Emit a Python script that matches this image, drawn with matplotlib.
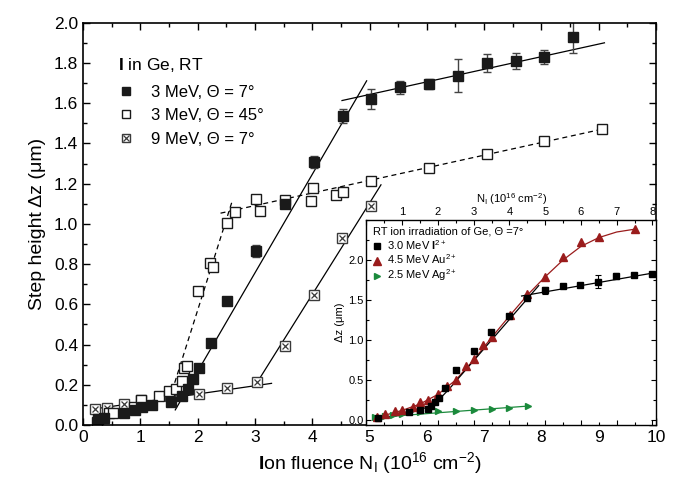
import matplotlib
matplotlib.use("Agg")
import matplotlib.pyplot as plt
from matplotlib.lines import Line2D
from matplotlib.ticker import MultipleLocator, FixedLocator

plt.rcParams['font.family'] = ['Liberation Sans', 'DejaVu Sans']
plt.rcParams['mathtext.fontset'] = 'custom'
plt.rcParams['mathtext.rm'] = 'Liberation Sans'
plt.rcParams['mathtext.it'] = 'Liberation Sans:italic'
plt.rcParams['mathtext.bf'] = 'Liberation Sans:bold'

# ---- main panel: I ions in Ge, step height vs fluence ----
# 3 MeV, theta = 7 deg (filled squares)
x_7 = [0.26, 0.37, 0.71, 0.91, 1.03, 1.2, 1.53, 1.72, 1.83, 1.92, 2.02, 2.23, 2.52,
       3.02, 3.53, 4.03, 4.53, 5.03, 5.53, 6.03, 6.54, 7.05, 7.55, 8.04, 8.56]
y_7 = [0.03, 0.036, 0.058, 0.075, 0.088, 0.10, 0.116, 0.146, 0.178, 0.227, 0.282, 0.41, 0.617,
       0.866, 1.10, 1.307, 1.534, 1.62, 1.678, 1.696, 1.736, 1.80, 1.81, 1.83, 1.93]
err_7 = [0, 0, 0, 0, 0, 0, 0, 0, 0, 0, 0.02, 0, 0,
         0.03, 0, 0.03, 0.035, 0.05, 0.03, 0.025, 0.083, 0.045, 0.04, 0.035, 0.083]

# 3 MeV, theta = 45 deg (open squares)
x_45 = [0.25, 0.46, 0.53, 0.89, 1.02, 1.33, 1.5, 1.63, 1.72, 1.77, 1.82, 2.01, 2.21, 2.27,
        2.52, 2.65, 3.02, 3.09, 3.53, 3.98, 4.02, 4.42, 4.53, 5.03, 6.03, 7.05, 8.05, 9.05]
y_45 = [0.015, 0.058, 0.06, 0.091, 0.122, 0.142, 0.168, 0.178, 0.217, 0.282, 0.295, 0.668, 0.807, 0.787,
        1.003, 1.06, 1.124, 1.065, 1.12, 1.116, 1.18, 1.144, 1.156, 1.215, 1.276, 1.348, 1.41, 1.47]

# 9 MeV, theta = 7 deg (crossed squares)
x_9 = [0.21, 0.41, 0.71, 1.02, 1.51, 2.02, 2.52, 3.03, 3.53, 4.03, 4.52, 5.02]
y_9 = [0.08, 0.086, 0.104, 0.123, 0.146, 0.154, 0.184, 0.216, 0.395, 0.647, 0.929, 1.09]

# straight-line fits (end points)
fit_7_low_x, fit_7_low_y = [0.2, 1.75], [0.02, 0.16]
fit_7_rise_x, fit_7_rise_y = [1.61, 4.95], [0.075, 1.711]
fit_7_sat_x, fit_7_sat_y = [4.52, 9.1], [1.613, 1.90]
fit_45_rise_x, fit_45_rise_y = [1.6, 2.6], [0.21, 1.11]
fit_45_sat_x, fit_45_sat_y = [2.4, 9.05], [1.053, 1.47]
fit_9_low_x, fit_9_low_y = [0.2, 3.29], [0.08, 0.207]
fit_9_rise_x, fit_9_rise_y = [3.0, 5.2], [0.194, 1.194]

# ---- inset: comparison of ion species ----
ins_I_x = [0.33, 1.2, 1.5, 1.72, 1.82, 1.92, 2.02, 2.19, 2.5, 3.0, 3.49, 4.0, 4.5,
           5.0, 5.49, 5.98, 6.49, 6.99, 7.49, 7.99]
ins_I_y = [0.02, 0.10, 0.125, 0.14, 0.17, 0.22, 0.27, 0.40, 0.62, 0.86, 1.10, 1.30, 1.52,
           1.62, 1.67, 1.69, 1.73, 1.80, 1.81, 1.83]
ins_I_err = [0, 0, 0, 0, 0, 0, 0, 0, 0, 0, 0, 0, 0.02,
             0.04, 0.02, 0.02, 0.08, 0.04, 0.02, 0.02]

ins_Au_x = [0.3, 0.52, 0.8, 1.0, 1.29, 1.5, 1.71, 2.0, 2.26, 2.51, 2.78, 3.02, 3.25, 3.51,
            4.02, 4.5, 5.0, 5.51, 6.0, 6.5, 7.51]
ins_Au_y = [0.04, 0.08, 0.11, 0.13, 0.16, 0.22, 0.25, 0.33, 0.42, 0.50, 0.67, 0.76, 0.94, 1.04,
            1.31, 1.57, 1.79, 2.04, 2.22, 2.29, 2.39]

ins_Ag_x = [0.23, 0.52, 0.75, 1.0, 1.5, 2.0, 2.52, 3.02, 3.52, 4.0, 4.52]
ins_Ag_y = [0.04, 0.05, 0.06, 0.075, 0.10, 0.11, 0.11, 0.12, 0.14, 0.155, 0.17]

# fitted curves read along their paths
curve_I_x = [0.2, 0.8, 1.3, 1.7, 2.0, 2.3, 4.82]
curve_I_y = [0.0, 0.05, 0.10, 0.16, 0.24, 0.38, 1.68]
curve_I_sat_x, curve_I_sat_y = [4.34, 8.05], [1.55, 1.84]
curve_Au_x = [0.2, 0.6, 1.0, 1.5, 2.0, 2.5, 3.0, 3.5, 4.0, 4.5, 5.0, 5.5, 6.0, 6.5, 7.0, 7.5]
curve_Au_y = [0.03, 0.07, 0.12, 0.2, 0.32, 0.5, 0.75, 1.03, 1.3, 1.56, 1.79, 2.0, 2.17, 2.28, 2.35, 2.385]
curve_Ag_x, curve_Ag_y = [0.2, 4.55], [0.03, 0.175]

red = '#9a1c1c'
green = '#1b8a3c'
gray = '#3a3a3a'

fig = plt.figure(figsize=(6.81, 4.83), dpi=100)
ax = fig.add_axes([0.1219, 0.1201, 0.8414, 0.8329])

lw_fit = 0.9
ax.plot(fit_7_low_x, fit_7_low_y, '-', color='k', lw=lw_fit)
ax.plot(fit_7_rise_x, fit_7_rise_y, '-', color='k', lw=lw_fit)
ax.plot(fit_7_sat_x, fit_7_sat_y, '-', color='k', lw=lw_fit)
ax.plot(fit_45_rise_x, fit_45_rise_y, '--', color='k', lw=lw_fit, dashes=(4, 3))
ax.plot(fit_45_sat_x, fit_45_sat_y, '--', color='k', lw=lw_fit, dashes=(4, 3))
ax.plot(fit_9_low_x, fit_9_low_y, '-', color='k', lw=lw_fit)
ax.plot(fit_9_rise_x, fit_9_rise_y, '-', color='k', lw=lw_fit)

ax.plot(x_9, y_9, 's', ms=6.5, mfc='white', mec=gray, mew=1.0)
ax.plot(x_9, y_9, 'x', ms=5, color=gray, mew=0.9)
ax.errorbar(x_7, y_7, yerr=err_7, fmt='s', ms=7.5, mfc='#1a1a1a', mec='#1a1a1a',
            ecolor='#444444', elinewidth=1.0, capsize=3, capthick=1.0)
ax.plot(x_45, y_45, 's', ms=7, mfc='white', mec='#1a1a1a', mew=1.0)

ax.set_xlim(0, 10)
ax.set_ylim(0, 2.0)
ax.xaxis.set_major_locator(MultipleLocator(1))
ax.xaxis.set_minor_locator(MultipleLocator(0.5))
ax.yaxis.set_major_locator(MultipleLocator(0.2))
ax.yaxis.set_minor_locator(MultipleLocator(0.1))
ax.yaxis.set_major_formatter(lambda v, p: f'{v:.1f}')
ax.tick_params(which='both', direction='in', top=True, right=True, labelsize=12.5)
ax.tick_params(which='major', length=5, width=1.0)
ax.tick_params(which='minor', length=3, width=1.0)
for s in ax.spines.values():
    s.set_linewidth(1.2)
ax.set_xlabel(r'$\mathbf{I}$on fluence N$_\mathrm{I}$ (10$^{16}$ cm$^{-2}$)', fontsize=14, labelpad=4)
ax.set_ylabel('Step height Δz (μm)', fontsize=14, labelpad=6)

h7 = Line2D([], [], ls='none', marker='s', ms=6, mfc='#1a1a1a', mec='#1a1a1a')
h45 = Line2D([], [], ls='none', marker='s', ms=6, mfc='white', mec='#1a1a1a')
h9a = Line2D([], [], ls='none', marker='s', ms=6, mfc='white', mec=gray)
h9b = Line2D([], [], ls='none', marker='x', ms=4.5, color=gray, mew=0.9)
leg = ax.legend([h7, h45, (h9a, h9b)],
                ['3 MeV, Θ = 7°', '3 MeV, Θ = 45°', '9 MeV, Θ = 7°'],
                title=r'$\mathbf{I}$ in Ge, RT', title_fontsize=12.5, fontsize=12,
                loc='upper left', bbox_to_anchor=(0.035, 0.955), frameon=False,
                handlelength=1.0, handletextpad=1.0, labelspacing=0.5,
                alignment='left')
leg._legend_box.sep = 8

# inset panel
axi = fig.add_axes([0.538, 0.1201, 0.4253, 0.4244])
axi.set_facecolor('white')
axi.plot(curve_Ag_x, curve_Ag_y, '-', color=green, lw=0.9)
axi.plot(curve_Au_x, curve_Au_y, '-', color=red, lw=0.9)
axi.plot(curve_I_x, curve_I_y, '-', color='k', lw=0.9)
axi.plot(curve_I_sat_x, curve_I_sat_y, '-', color='k', lw=0.9)
axi.plot(ins_Ag_x, ins_Ag_y, '>', ms=5, color=green)
axi.plot(ins_Au_x, ins_Au_y, '^', ms=5.5, color=red)
axi.errorbar(ins_I_x, ins_I_y, yerr=ins_I_err, fmt='s', ms=4.5, color='k',
             elinewidth=0.8, capsize=2, capthick=0.8)
axi.set_xlim(0, 8.1)
axi.set_ylim(-0.0625, 2.5)
axi.xaxis.set_major_locator(MultipleLocator(1))
axi.xaxis.set_minor_locator(MultipleLocator(0.5))
axi.yaxis.set_major_locator(FixedLocator([0.0, 0.5, 1.0, 1.5, 2.0]))
axi.yaxis.set_minor_locator(MultipleLocator(0.25))
axi.yaxis.set_major_formatter(lambda v, p: f'{v:.1f}')
axi.xaxis.set_major_formatter(lambda v, p: '' if v == 0 else f'{v:.0f}')
axi.xaxis.tick_top()
axi.xaxis.set_label_position('top')
axi.tick_params(which='both', direction='in', top=True, bottom=True, left=True, right=True,
                labeltop=True, labelbottom=False, labelsize=8)
axi.tick_params(which='major', length=3.5, width=0.8, pad=2)
axi.tick_params(which='minor', length=2, width=0.8)
for s in axi.spines.values():
    s.set_linewidth(1.0)
axi.set_xlabel(r'N$_\mathrm{I}$ (10$^{16}$ cm$^{-2}$)', fontsize=8, labelpad=3)
axi.set_ylabel('Δz (μm)', fontsize=8, labelpad=2)

hI = Line2D([], [], ls='none', marker='s', ms=4.5, color='k')
hAu = Line2D([], [], ls='none', marker='^', ms=5.5, color=red)
hAg = Line2D([], [], ls='none', marker='>', ms=5, color=green)
axi.legend([hI, hAu, hAg],
           [r'3.0 MeV $\mathbf{I}^{2+}$', r'4.5 MeV Au$^{2+}$', r'2.5 MeV Ag$^{2+}$'],
           title='RT ion irradiation of Ge, Θ =7°', title_fontsize=8, fontsize=8,
           loc='upper left', bbox_to_anchor=(0.0, 1.0), frameon=False,
           handlelength=0.8, handletextpad=0.5, labelspacing=0.1,
           alignment='left', borderaxespad=0.2)

fig.savefig('out.png', dpi=100)
